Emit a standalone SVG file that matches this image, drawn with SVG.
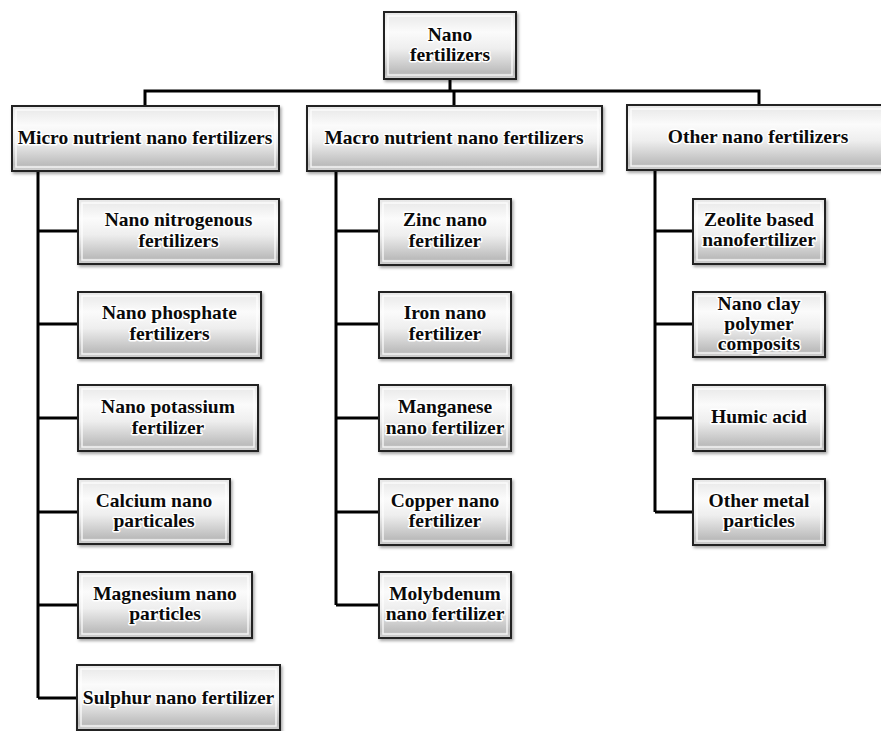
<svg xmlns="http://www.w3.org/2000/svg" width="881" height="731" viewBox="0 0 881 731">
<defs>
<linearGradient id="g" x1="0" y1="0" x2="0" y2="1">
<stop offset="0" stop-color="#e6e6e6"/>
<stop offset="0.3" stop-color="#fbfbfb"/>
<stop offset="0.55" stop-color="#eeeeee"/>
<stop offset="0.9" stop-color="#bcbcbc"/>
<stop offset="1" stop-color="#d2d2d2"/>
</linearGradient>
<filter id="sh" x="-10%" y="-10%" width="120%" height="130%">
<feDropShadow dx="1.5" dy="2" stdDeviation="1.5" flood-color="#000" flood-opacity="0.35"/>
</filter>
</defs>
<style>
.box{fill:url(#g);stroke:#222;stroke-width:2;filter:url(#sh)}
.in{fill:none;stroke:#fff;stroke-width:1.5;opacity:0.8}
text{font-family:"Liberation Serif","Times New Roman",serif;font-weight:bold;font-size:19.5px;fill:#0a0a0a;text-anchor:middle;stroke:#fff;stroke-width:3;stroke-linejoin:round;paint-order:stroke}
.c{fill:none;stroke:#000;stroke-width:3}
</style>
<rect width="881" height="731" fill="#fff"/>
<g id="connectors">
<path class="c" d="M450 79V91M145 106V91H759V105M454 91V106"/>
<path class="c" d="M38 171V698M38 231H78M38 324H78M38 418H78M38 512H78M38 605H78M38 698H78"/>
<path class="c" d="M336 171V605M336 231H379M336 324H379M336 418H379M336 512H379M336 605H379"/>
<path class="c" d="M655 170V512M655 231H693M655 324H693M655 418H693M655 512H693"/>
</g>
<g id="root"><rect class="box" x="384" y="12" width="132" height="67"/><rect class="in" x="388" y="16" width="124" height="59"/><text x="450" y="41">Nano</text><text x="450" y="61">fertilizers</text></g>
<g id="micro"><rect class="box" x="12" y="106" width="267" height="65"/><rect class="in" x="16" y="110" width="259" height="57"/><text x="145" y="144">Micro nutrient nano fertilizers</text></g>
<g id="macro"><rect class="box" x="307" y="106" width="295" height="65"/><rect class="in" x="311" y="110" width="287" height="57"/><text x="454" y="144">Macro nutrient nano fertilizers</text></g>
<g id="other"><rect class="box" x="627" y="105" width="262" height="65"/><rect class="in" x="631" y="109" width="254" height="57"/><text x="758" y="143">Other nano fertilizers</text></g>

<g id="nitrogenous"><rect class="box" x="78" y="199" width="201" height="65"/><rect class="in" x="82" y="203" width="193" height="57"/><text x="178.5" y="226">Nano nitrogenous</text><text x="178.5" y="247">fertilizers</text></g>
<g id="phosphate"><rect class="box" x="78" y="292" width="183" height="66"/><rect class="in" x="82" y="296" width="175" height="58"/><text x="169.5" y="319">Nano phosphate</text><text x="169.5" y="340">fertilizers</text></g>
<g id="potassium"><rect class="box" x="78" y="385" width="180" height="66"/><rect class="in" x="82" y="389" width="172" height="58"/><text x="168" y="413">Nano potassium</text><text x="168" y="434">fertilizer</text></g>
<g id="calcium"><rect class="box" x="78" y="479" width="152" height="65"/><rect class="in" x="82" y="483" width="144" height="57"/><text x="154" y="507">Calcium nano</text><text x="154" y="527">particales</text></g>
<g id="magnesium"><rect class="box" x="78" y="572" width="174" height="66"/><rect class="in" x="82" y="576" width="166" height="58"/><text x="165" y="600">Magnesium nano</text><text x="165" y="620">particles</text></g>
<g id="sulphur"><rect class="box" x="77" y="665" width="203" height="65"/><rect class="in" x="81" y="669" width="195" height="57"/><text x="178.5" y="704">Sulphur nano fertilizer</text></g>

<g id="zinc"><rect class="box" x="379" y="199" width="132" height="66"/><rect class="in" x="383" y="203" width="124" height="58"/><text x="445" y="226">Zinc nano</text><text x="445" y="247">fertilizer</text></g>
<g id="iron"><rect class="box" x="379" y="292" width="132" height="66"/><rect class="in" x="383" y="296" width="124" height="58"/><text x="445" y="319">Iron nano</text><text x="445" y="340">fertilizer</text></g>
<g id="manganese"><rect class="box" x="379" y="385" width="132" height="66"/><rect class="in" x="383" y="389" width="124" height="58"/><text x="445" y="413">Manganese</text><text x="445" y="434">nano fertilizer</text></g>
<g id="copper"><rect class="box" x="379" y="479" width="132" height="66"/><rect class="in" x="383" y="483" width="124" height="58"/><text x="445" y="507">Copper nano</text><text x="445" y="527">fertilizer</text></g>
<g id="molybdenum"><rect class="box" x="379" y="572" width="132" height="66"/><rect class="in" x="383" y="576" width="124" height="58"/><text x="445" y="600">Molybdenum</text><text x="445" y="620">nano fertilizer</text></g>

<g id="zeolite"><rect class="box" x="693" y="199" width="132" height="65"/><rect class="in" x="697" y="203" width="124" height="57"/><text x="759" y="226">Zeolite based</text><text x="759" y="246">nanofertilizer</text></g>
<g id="nanoclay"><rect class="box" x="693" y="292" width="132" height="65"/><rect class="in" x="697" y="296" width="124" height="57"/><text x="759" y="310">Nano clay</text><text x="759" y="330">polymer</text><text x="759" y="350">composits</text></g>
<g id="humic"><rect class="box" x="693" y="385" width="132" height="66"/><rect class="in" x="697" y="389" width="124" height="58"/><text x="759" y="423">Humic acid</text></g>
<g id="metal"><rect class="box" x="693" y="479" width="132" height="66"/><rect class="in" x="697" y="483" width="124" height="58"/><text x="759" y="507">Other metal</text><text x="759" y="527">particles</text></g>
</svg>
